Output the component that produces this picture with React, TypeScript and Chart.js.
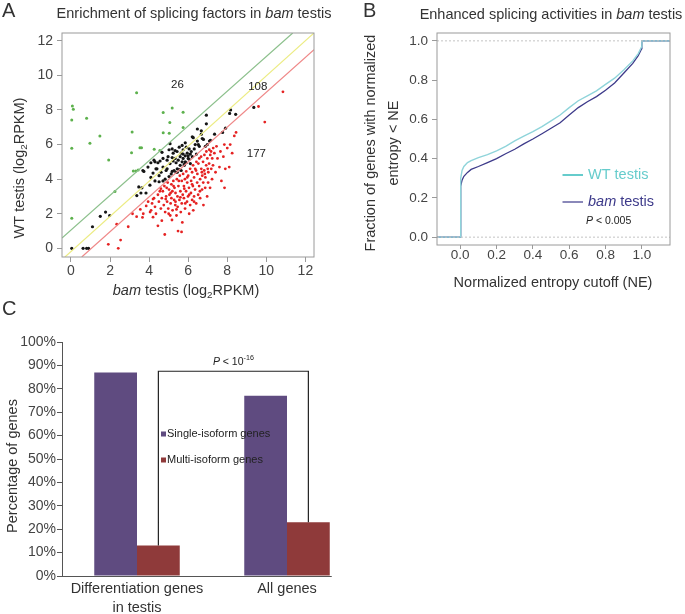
import React, { useEffect, useRef } from 'react';
import { Chart, registerables } from 'chart.js';
Chart.register(...registerables);

const FONT = '"Liberation Sans", Arial, Helvetica, sans-serif';
Chart.defaults.font.family = FONT;

// ---------------- Panel A data ----------------
const aTicks = [0, 2, 4, 6, 8, 10, 12];
const aXMin = -0.46, aXMax = 12.44, aYMin = -0.5, aYMax = 12.45;
const greenLine = [[-0.46, 0.6], [11.35, 12.45]];
const yellowLine = [[-0.31, -0.5], [12.44, 12.45]];
const redLine = [[0.55, -0.5], [12.44, 11.48]];
const regionCounts = ['26', '108', '177'];
const regionX = [5.45, 9.56, 9.49];
const regionY = [9.45, 9.35, 5.44];

const greenPts = [
  [0.07, 8.23], [0.12, 8.04], [0.04, 7.42], [0.8, 7.52], [0.04, 5.79], [1.48, 6.5], [0.97, 6.08],
  [1.93, 5.11], [0.04, 1.74], [3.36, 9.0], [3.13, 6.73], [3.1, 5.53], [3.53, 5.82], [3.61, 5.82],
  [3.19, 4.47], [3.32, 4.47], [3.44, 4.53], [4.26, 5.73], [4.55, 5.65], [4.72, 7.85], [5.18, 8.12],
  [5.74, 7.87], [5.06, 7.27], [4.72, 6.69], [5.03, 6.65], [5.74, 6.98], [2.25, 3.28],
];

const blackPts = [
  [0.04, 0], [0.62, 0], [0.8, 0], [0.9, 0], [1.1, 1.25], [1.5, 1.85], [1.77, 2.1], [1.98, 1.9],
  [3.58, 3.2], [3.84, 3.2], [3.63, 3.5], [3.68, 4.5], [4.04, 3.65], [4.09, 4.1], [4.3, 3.9], [4.51, 3.85],
  [4.71, 3.9], [4.82, 4.0], [3.94, 4.7], [4.09, 4.95], [4.3, 5.0], [4.25, 5.1], [4.56, 5.05], [4.71, 4.7],
  [4.87, 4.5], [4.97, 5.3], [5.02, 5.7], [5.18, 5.75], [5.23, 5.5], [5.33, 5.2], [5.13, 4.3], [5.18, 4.45],
  [5.28, 4.5], [5.44, 4.4], [5.44, 4.6], [5.49, 5.1], [5.59, 5.3], [5.64, 5.5], [5.69, 5.0], [5.74, 5.7],
  [5.74, 5.2], [5.85, 5.35], [5.9, 5.85], [5.95, 5.5], [6.0, 5.2], [6.05, 5.15], [6.11, 5.45], [6.16, 5.6],
  [5.85, 5.0], [5.8, 4.8], [5.59, 4.8], [5.38, 4.95], [5.23, 5.05], [5.07, 4.9], [4.92, 4.6], [4.61, 4.4],
  [4.51, 4.2], [5.54, 4.55], [5.64, 4.5], [5.9, 4.95], [6.05, 5.75], [6.21, 5.3], [6.36, 6.0], [6.47, 6.2],
  [6.57, 5.9], [6.47, 6.9], [6.67, 6.8], [6.93, 7.2], [6.98, 6.0], [7.09, 6.2], [6.78, 6.3], [6.88, 5.9],
  [7.14, 6.25], [7.76, 6.7], [7.91, 6.95], [8.12, 7.8], [8.17, 8.0], [8.43, 7.75], [9.36, 8.15], [6.93, 7.7],
  [6.26, 6.4], [5.69, 5.95], [5.43, 5.6], [5.18, 5.25], [4.4, 4.6], [4.2, 4.35], [3.73, 4.45], [4.66, 5.55],
  [5.07, 6.05], [5.85, 6.1], [6.21, 6.45], [6.52, 6.0], [6.67, 6.6], [6.0, 5.35], [5.74, 5.45], [5.54, 5.85],
  [5.33, 5.65], [4.92, 5.1], [4.71, 5.2], [4.45, 4.95], [5.8, 4.85], [6.11, 4.9], [6.31, 5.75], [6.42, 5.45],
  [4.35, 4.6], [5.02, 4.15], [5.38, 4.4], [3.47, 3.55], [3.37, 3.05], [6.72, 6.35], [7.35, 6.6],
];

const redPts = [
  [1.91, 0.23], [2.42, 0], [2.54, 0.48], [2.93, 1.25], [2.34, 1.4], [3.15, 2.0], [3.36, 1.83], [3.66, 1.79], [3.95, 2.7],
  [3.55, 2.25], [3.85, 2.45], [4.05, 2.1], [4.2, 2.85], [3.7, 2.0],
  [4.1, 2.2], [4.15, 2.6], [4.2, 1.8], [4.25, 2.9], [4.3, 2.4], [4.35, 2.0], [4.45, 3.1], [4.5, 2.7], [4.55, 3.3],
  [4.6, 2.3], [4.65, 2.9], [4.65, 1.6], [4.6, 3.45], [4.45, 1.3],
  [4.7, 3.3], [4.75, 2.5], [4.78, 3.6], [4.82, 2.1], [4.8, 0.8], [4.87, 3.0], [4.92, 2.7], [4.95, 3.8], [4.98, 2.3],
  [5.02, 3.4], [5.04, 3.1], [5.08, 1.9], [5.1, 2.6], [5.14, 3.7], [5.14, 2.9], [5.17, 1.64], [5.19, 3.3], [5.2, 2.2],
  [5.24, 3.9], [5.28, 2.8], [5.3, 3.5], [5.34, 2.5], [5.35, 3.2], [5.4, 1.9], [5.42, 4.0], [5.45, 3.0], [5.46, 2.4],
  [5.5, 3.6], [5.48, 1.0], [5.55, 2.8], [5.57, 4.2], [5.6, 3.3], [5.62, 2.1], [5.67, 3.9], [5.67, 2.6], [5.72, 3.1],
  [5.74, 4.3], [5.7, 1.5],
  [5.78, 2.9], [5.78, 3.6], [5.83, 4.0], [5.84, 2.3], [5.89, 3.3], [5.9, 4.45], [5.94, 2.7], [5.95, 3.8], [5.99, 3.0],
  [6.0, 4.2], [6.05, 2.0], [6.04, 3.5], [6.1, 4.6], [6.1, 2.5], [6.15, 3.9], [6.14, 3.2], [6.2, 4.4], [6.2, 2.8],
  [6.24, 3.6], [6.25, 4.8], [6.26, 2.2], [5.66, 0.95],
  [6.3, 4.1], [6.3, 3.0], [6.36, 4.6], [6.35, 3.4], [6.41, 2.6], [6.42, 5.0], [6.46, 3.8], [6.47, 4.3], [6.51, 3.1],
  [6.52, 4.9], [6.56, 3.6], [6.57, 5.2], [6.61, 4.0], [6.61, 2.9], [6.67, 4.6], [6.66, 5.3], [6.71, 3.4], [6.72, 4.2],
  [6.76, 5.0], [6.77, 3.8], [6.78, 2.5],
  [6.82, 4.5], [6.83, 5.4], [6.87, 3.5], [6.88, 4.1], [6.93, 5.6], [6.92, 4.8], [6.97, 3.0], [6.98, 5.2], [7.03, 4.4],
  [7.02, 3.8], [7.08, 5.7], [7.07, 4.9], [7.13, 5.4], [7.12, 3.5], [7.18, 4.6], [7.17, 5.6], [7.23, 5.2], [7.22, 4.0],
  [7.28, 5.8], [7.27, 4.8],
  [7.34, 5.5], [7.4, 4.4], [7.45, 5.9], [7.5, 5.2], [7.6, 4.7], [7.65, 5.6], [7.7, 3.9], [7.8, 5.3], [7.85, 6.0],
  [7.86, 3.5], [7.9, 4.6], [8.0, 5.8], [8.1, 4.7], [8.15, 6.0], [8.25, 5.5], [8.36, 6.5], [8.45, 6.7],
  [9.6, 8.2], [10.85, 9.05], [9.92, 7.3],
  [4.9, 3.5], [5.0, 2.0], [5.25, 3.6], [5.35, 2.7], [5.52, 3.9], [5.6, 2.95], [5.8, 3.45], [5.95, 4.1], [6.05, 3.1],
  [6.2, 3.7], [6.4, 4.5], [6.6, 3.3], [6.85, 4.3], [7.0, 4.6], [5.1, 3.2], [4.85, 2.85], [5.4, 2.25], [5.85, 2.6],
  [6.3, 2.7], [6.7, 4.4],
];

// ---------------- Panel B data ----------------
const bXMin = -0.128, bXMax = 1.155, bYMin = -0.04, bYMax = 1.04;
const bTicksX = [0, 0.2, 0.4, 0.6, 0.8, 1.0];
const bTicksY = [0, 0.2, 0.4, 0.6, 0.8, 1.0];
const wtX = [-0.128, 0, 0.001, 0.004, 0.01, 0.02, 0.04, 0.06, 0.1, 0.15, 0.2, 0.25, 0.3, 0.35, 0.4, 0.45, 0.5, 0.55, 0.6, 0.65, 0.7, 0.75, 0.8, 0.85, 0.9, 0.95, 0.98, 0.999, 1.0, 1.155];
const wtY = [0, 0, 0.2, 0.3, 0.34, 0.36, 0.38, 0.39, 0.405, 0.42, 0.44, 0.462, 0.49, 0.515, 0.538, 0.563, 0.592, 0.622, 0.66, 0.695, 0.72, 0.745, 0.778, 0.81, 0.852, 0.898, 0.935, 0.97, 1.0, 1.0];
const bamX = [-0.128, 0, 0.001, 0.004, 0.01, 0.02, 0.04, 0.06, 0.1, 0.15, 0.2, 0.25, 0.3, 0.35, 0.4, 0.45, 0.5, 0.55, 0.6, 0.65, 0.7, 0.75, 0.8, 0.85, 0.9, 0.95, 0.98, 0.999, 1.0, 1.155];
const bamY = [0, 0, 0.18, 0.26, 0.29, 0.31, 0.33, 0.345, 0.36, 0.38, 0.4, 0.425, 0.448, 0.475, 0.5, 0.527, 0.555, 0.583, 0.622, 0.66, 0.69, 0.716, 0.748, 0.785, 0.835, 0.885, 0.925, 0.96, 1.0, 1.0];
const bRefLevels = [0, 1];

// ---------------- Panel C data ----------------
const cCategories = [['Differentiation genes', 'in testis'], 'All genes'];
const cSeries = ['Single-isoform genes', 'Multi-isoform genes'];
const singleIso = [87, 77];
const multiIso = [13, 23];
const cTicks = [0, 10, 20, 30, 40, 50, 60, 70, 80, 90, 100];
const pBracketLevel = 87.5;

type Seg = { t: string; i?: boolean; sub?: boolean; sup?: boolean };
function drawRich(ctx: CanvasRenderingContext2D, segs: Seg[], x: number, y: number, size: number, color: string, align: 'left' | 'center' = 'center', rot = 0) {
  const f = (s: Seg) => `${s.i ? 'italic ' : ''}${(s.sub || s.sup) ? size * 0.68 : size}px ${FONT}`;
  ctx.save();
  ctx.translate(x, y);
  if (rot) ctx.rotate(rot);
  let w = 0;
  for (const s of segs) { ctx.font = f(s); w += ctx.measureText(s.t).width; }
  let cx = align === 'center' ? -w / 2 : 0;
  ctx.fillStyle = color;
  ctx.textAlign = 'left';
  ctx.textBaseline = 'middle';
  for (const s of segs) {
    ctx.font = f(s);
    const dy = s.sub ? size * 0.3 : s.sup ? -size * 0.38 : 0;
    ctx.fillText(s.t, cx, dy);
    cx += ctx.measureText(s.t).width;
  }
  ctx.restore();
}

const toXY = (arr: number[][]) => arr.map(([x, y]) => ({ x, y }));
const zipXY = (xs: number[], ys: number[]) => xs.map((x, i) => ({ x, y: ys[i] }));

function frame(chart: any, color: string) {
  const { ctx, chartArea: a } = chart;
  ctx.save();
  ctx.strokeStyle = color;
  ctx.lineWidth = 1;
  ctx.strokeRect(a.left, a.top, a.right - a.left, a.bottom - a.top);
  ctx.restore();
}

export default function App() {
  const refA = useRef<HTMLCanvasElement>(null);
  const refB = useRef<HTMLCanvasElement>(null);
  const refC = useRef<HTMLCanvasElement>(null);

  useEffect(() => {
    const charts: Chart[] = [];
    // ----- A -----
    charts.push(new Chart(refA.current!, {
      type: 'scatter',
      data: {
        datasets: [
          { type: 'line', data: toXY(greenLine), borderColor: '#8cc08c', borderWidth: 1.2, pointRadius: 0 } as any,
          { type: 'line', data: toXY(yellowLine), borderColor: '#ecec84', borderWidth: 1.2, pointRadius: 0 } as any,
          { type: 'line', data: toXY(redLine), borderColor: '#ef8888', borderWidth: 1.2, pointRadius: 0 } as any,
          { data: toXY(redPts), backgroundColor: '#e52222', borderWidth: 0, pointRadius: 1.4 },
          { data: toXY(blackPts), backgroundColor: '#151515', borderWidth: 0, pointRadius: 1.6 },
          { data: toXY(greenPts), backgroundColor: '#5db14d', borderWidth: 0, pointRadius: 1.5 },
        ],
      },
      options: {
        animation: false, responsive: false, devicePixelRatio: 1,
        layout: { padding: { left: 0, top: 33, right: 26, bottom: 0 } },
        plugins: { legend: { display: false }, tooltip: { enabled: false } },
        scales: {
          x: {
            type: 'linear', min: aXMin, max: aXMax,
            afterBuildTicks: (s: any) => { s.ticks = aTicks.map(v => ({ value: v })); },
            afterFit: (s: any) => { s.height = 48; },
            grid: { display: true, drawOnChartArea: false, drawTicks: true, tickLength: 5, color: '#9a9a9a' },
            border: { display: false },
            ticks: { font: { size: 14, family: FONT }, color: '#444', padding: 1, maxRotation: 0, autoSkip: false },
          },
          y: {
            type: 'linear', min: aYMin, max: aYMax,
            afterBuildTicks: (s: any) => { s.ticks = aTicks.map(v => ({ value: v })); },
            afterFit: (s: any) => { s.width = 62; },
            grid: { display: true, drawOnChartArea: false, drawTicks: true, tickLength: 5, color: '#9a9a9a' },
            border: { display: false },
            ticks: { font: { size: 14, family: FONT }, color: '#444', padding: 4, autoSkip: false },
          },
        },
      },
      plugins: [{
        id: 'aDecor',
        afterDraw(chart: any) {
          const { ctx, scales } = chart;
          frame(chart, '#9a9a9a');
          ctx.save();
          ctx.font = `11.5px ${FONT}`;
          ctx.fillStyle = '#222';
          ctx.textAlign = 'center';
          ctx.textBaseline = 'middle';
          regionCounts.forEach((t, i) => ctx.fillText(t, scales.x.getPixelForValue(regionX[i]), scales.y.getPixelForValue(regionY[i])));
          ctx.restore();
          drawRich(ctx, [{ t: 'A' }], 2, 11, 20, '#333', 'left');
          drawRich(ctx, [{ t: 'Enrichment of splicing factors in ' }, { t: 'bam', i: true }, { t: ' testis' }], 194, 14, 14.5, '#333');
          drawRich(ctx, [{ t: 'bam', i: true }, { t: ' testis (log' }, { t: '2', sub: true }, { t: 'RPKM)' }], 186, 291, 14.5, '#333');
          drawRich(ctx, [{ t: 'WT testis (log' }, { t: '2', sub: true }, { t: 'RPKM)' }], 19.5, 168, 14.5, '#333', 'center', -Math.PI / 2);
        },
      }],
    } as any));

    // ----- B -----
    charts.push(new Chart(refB.current!, {
      type: 'scatter',
      data: {
        datasets: [
          ...bRefLevels.map(l => ({ type: 'line', data: [{ x: bXMin, y: l }, { x: bXMax, y: l }], borderColor: '#c4c4c4', borderWidth: 1, borderDash: [2, 2], pointRadius: 0 })),
          { type: 'line', data: zipXY(wtX, wtY), borderColor: '#8fd4da', borderWidth: 1.4, pointRadius: 0, tension: 0 },
          { type: 'line', data: zipXY(bamX, bamY), borderColor: '#3d3a8a', borderWidth: 1.3, pointRadius: 0, tension: 0 },
        ],
      },
      options: {
        animation: false, responsive: false, devicePixelRatio: 1,
        layout: { padding: { left: 0, top: 33, right: 15, bottom: 0 } },
        plugins: { legend: { display: false }, tooltip: { enabled: false } },
        scales: {
          x: {
            type: 'linear', min: bXMin, max: bXMax,
            afterBuildTicks: (s: any) => { s.ticks = bTicksX.map(v => ({ value: v })); },
            afterFit: (s: any) => { s.height = 55; },
            grid: { display: true, drawOnChartArea: false, drawTicks: true, tickLength: 4, color: '#9a9a9a' },
            border: { display: false },
            ticks: { font: { size: 13.5, family: FONT, lineHeight: 0.9 }, color: '#444', padding: 0, maxRotation: 0, autoSkip: false, callback: (v: any) => Number(v).toFixed(1) },
          },
          y: {
            type: 'linear', min: bYMin, max: bYMax,
            afterBuildTicks: (s: any) => { s.ticks = bTicksY.map(v => ({ value: v })); },
            afterFit: (s: any) => { s.width = 97; },
            grid: { display: true, drawOnChartArea: false, drawTicks: true, tickLength: 5, color: '#9a9a9a' },
            border: { display: false },
            ticks: { font: { size: 13.5, family: FONT }, color: '#444', padding: 4, autoSkip: false, callback: (v: any) => Number(v).toFixed(1) },
          },
        },
      },
      plugins: [{
        id: 'bDecor',
        afterDraw(chart: any) {
          const { ctx } = chart;
          frame(chart, '#9a9a9a');
          drawRich(ctx, [{ t: 'B' }], 23, 11, 20, '#333', 'left');
          drawRich(ctx, [{ t: 'Enhanced splicing activities in ' }, { t: 'bam', i: true }, { t: ' testis' }], 211, 15, 14.5, '#333');
          drawRich(ctx, [{ t: 'Normalized entropy cutoff (NE)' }], 213, 283, 14.5, '#333');
          drawRich(ctx, [{ t: 'Fraction of genes with normalized' }], 31, 143, 14.5, '#333', 'center', -Math.PI / 2);
          drawRich(ctx, [{ t: 'entropy < NE' }], 53.5, 143, 14.5, '#333', 'center', -Math.PI / 2);
          ctx.save();
          ctx.strokeStyle = '#66cccc';
          ctx.lineWidth = 2;
          ctx.beginPath(); ctx.moveTo(222.5, 175); ctx.lineTo(243, 175); ctx.stroke();
          ctx.strokeStyle = '#3d3a8a';
          ctx.lineWidth = 1.2;
          ctx.beginPath(); ctx.moveTo(222.5, 202); ctx.lineTo(243, 202); ctx.stroke();
          ctx.restore();
          drawRich(ctx, [{ t: 'WT testis' }], 248, 175, 14.5, '#66cccc', 'left');
          drawRich(ctx, [{ t: 'bam', i: true }, { t: ' testis' }], 248, 202, 14.5, '#3d3a8a', 'left');
          drawRich(ctx, [{ t: 'P', i: true }, { t: ' < 0.005' }], 246, 221, 10.5, '#222', 'left');
        },
      }],
    } as any));

    // ----- C -----
    charts.push(new Chart(refC.current!, {
      type: 'bar',
      data: {
        labels: cCategories,
        datasets: [
          { label: cSeries[0], data: singleIso, backgroundColor: '#5f4b80', barPercentage: 1, categoryPercentage: 0.57 },
          { label: cSeries[1], data: multiIso, backgroundColor: '#8f3a3a', barPercentage: 1, categoryPercentage: 0.57 },
        ],
      },
      options: {
        animation: false, responsive: false, devicePixelRatio: 1,
        layout: { padding: { left: 0, top: 52, right: 38, bottom: 0 } },
        plugins: { legend: { display: false }, tooltip: { enabled: false } },
        scales: {
          x: {
            afterFit: (s: any) => { s.height = 38; },
            grid: { display: false, drawTicks: false },
            border: { display: false },
            ticks: { font: { size: 14.5, family: FONT, lineHeight: 1.3 }, color: '#333', padding: 4, maxRotation: 0, autoSkip: false },
          },
          y: {
            min: 0, max: 100,
            afterBuildTicks: (s: any) => { s.ticks = cTicks.map(v => ({ value: v })); },
            afterFit: (s: any) => { s.width = 62; },
            grid: { display: true, drawOnChartArea: false, drawTicks: true, tickLength: 5, color: '#555' },
            border: { display: true, color: '#555' },
            ticks: { font: { size: 14, family: FONT }, color: '#444', padding: 1, autoSkip: false, callback: (v: any) => v + '%' },
          },
        },
      },
      plugins: [{
        id: 'cDecor',
        afterDraw(chart: any) {
          const { ctx, chartArea: a, scales } = chart;
          const m1 = chart.getDatasetMeta(1);
          const e0 = m1.data[0], e1 = m1.data[1];
          ctx.save();
          // baseline
          ctx.strokeStyle = '#555';
          ctx.lineWidth = 1;
          ctx.beginPath();
          ctx.moveTo(a.left, a.bottom + 0.5);
          ctx.lineTo(e1.x + e1.width / 2 + 2, a.bottom + 0.5);
          ctx.stroke();
          // bracket
          const yTop = scales.y.getPixelForValue(pBracketLevel);
          ctx.strokeStyle = '#222';
          ctx.lineWidth = 1.2;
          ctx.beginPath();
          ctx.moveTo(e0.x, e0.y);
          ctx.lineTo(e0.x, yTop);
          ctx.lineTo(e1.x, yTop);
          ctx.lineTo(e1.x, e1.y);
          ctx.stroke();
          // legend
          const colors = ['#5f4b80', '#8f3a3a'];
          const ly = [144, 170];
          cSeries.forEach((s, i) => {
            ctx.fillStyle = colors[i];
            ctx.fillRect(a.left + 99, ly[i] - 2.5, 5, 5);
          });
          ctx.restore();
          cSeries.forEach((s, i) => drawRich(ctx, [{ t: s }], a.left + 105, ly[i], 11, '#222', 'left'));
          drawRich(ctx, [{ t: 'P', i: true }, { t: ' < 10' }, { t: '-16', sup: true }], (e0.x + e1.x) / 2, yTop - 9, 10.5, '#222');
          drawRich(ctx, [{ t: 'C' }], 2, 19, 20, '#333', 'left');
          drawRich(ctx, [{ t: 'Percentage of genes' }], 13, 176, 14.5, '#333', 'center', -Math.PI / 2);
        },
      }],
    } as any));

    return () => charts.forEach(c => c.destroy());
  }, []);

  return (
    <div style={{ position: 'absolute', left: 0, top: 0, width: 685, height: 614, background: '#fff', overflow: 'hidden' }}>
      <canvas ref={refA} width={340} height={305} style={{ position: 'absolute', left: 0, top: 0 }} />
      <canvas ref={refB} width={345} height={300} style={{ position: 'absolute', left: 340, top: 0 }} />
      <canvas ref={refC} width={400} height={324} style={{ position: 'absolute', left: 0, top: 290 }} />
    </div>
  );
}
